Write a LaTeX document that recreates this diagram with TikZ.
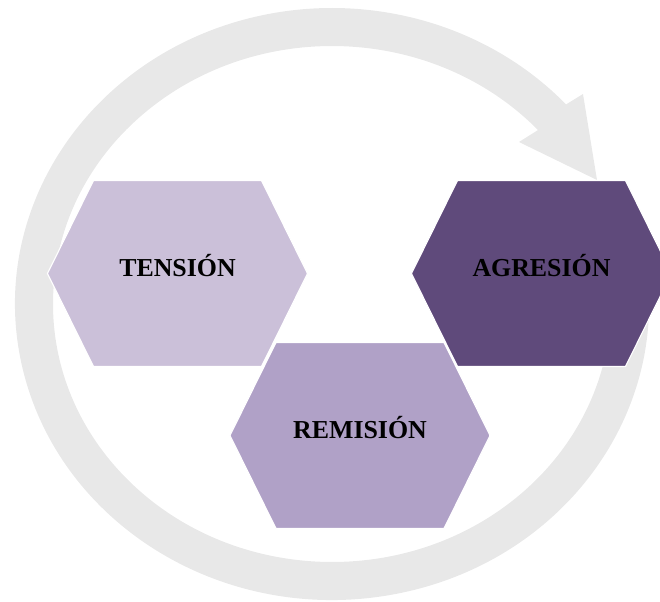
\documentclass[tikz,border=0pt]{standalone}
\usepackage{fontspec}
\setmainfont{Liberation Serif}
\definecolor{kring}{HTML}{E8E8E8}
\definecolor{tension}{HTML}{CBC0D9}
\definecolor{remision}{HTML}{B0A1C7}
\definecolor{agresion}{HTML}{5F4A7B}
\tikzstyle{hexa}=[draw=white,
                  line width=0.8pt
                 ]
\tikzstyle{fase}=[anchor=base,
                  text=black,
                  font=\fontsize{18.4}{22}\selectfont\bfseries
                 ]

\begin{document}
\begin{tikzpicture}
  \clip (-8.3cm, -7.425cm) rectangle (8.2cm, 7.6cm);

  % ring with its arrow head
  \fill[kring] (10:7.925cm and 7.4cm)
    arc[start angle=10, end angle=-317.6, x radius=7.925cm, y radius=7.4cm]
    -- (6.275cm, 5.25cm) -- (6.625cm, 3.1cm) -- (4.675cm, 4.05cm)
    -- (-317.6:6.975cm and 6.45cm)
    arc[start angle=-317.6, end angle=10, x radius=6.975cm, y radius=6.45cm]
    -- cycle;

  \filldraw[hexa, fill=tension] (-3.8625cm - 3.25cm, 0.7625cm)
    -- (-3.8625cm - 2.1cm, 0.7625cm + 2.325cm) -- (-3.8625cm + 2.1cm, 0.7625cm + 2.325cm)
    -- (-3.8625cm + 3.25cm, 0.7625cm)
    -- (-3.8625cm + 2.1cm, 0.7625cm - 2.325cm) -- (-3.8625cm - 2.1cm, 0.7625cm - 2.325cm) -- cycle;
  \node at (-3.8625cm, 0.7cm) (tension) [fase] {TENSIÓN};

  \filldraw[hexa, fill=agresion] (5.2375cm - 3.25cm, 0.7625cm)
    -- (5.2375cm - 2.1cm, 0.7625cm + 2.325cm) -- (5.2375cm + 2.1cm, 0.7625cm + 2.325cm)
    -- (5.2375cm + 3.25cm, 0.7625cm)
    -- (5.2375cm + 2.1cm, 0.7625cm - 2.325cm) -- (5.2375cm - 2.1cm, 0.7625cm - 2.325cm) -- cycle;
  \node at (5.2375cm, 0.7cm) (agresion) [fase] {AGRESIÓN};

  \filldraw[hexa, fill=remision] (0.7cm - 3.25cm, -3.2875cm)
    -- (0.7cm - 2.1cm, -3.2875cm + 2.325cm) -- (0.7cm + 2.1cm, -3.2875cm + 2.325cm)
    -- (0.7cm + 3.25cm, -3.2875cm)
    -- (0.7cm + 2.1cm, -3.2875cm - 2.325cm) -- (0.7cm - 2.1cm, -3.2875cm - 2.325cm) -- cycle;
  \node at (0.7cm, -3.35cm) (remision) [fase] {REMISIÓN};
\end{tikzpicture}
\end{document}
